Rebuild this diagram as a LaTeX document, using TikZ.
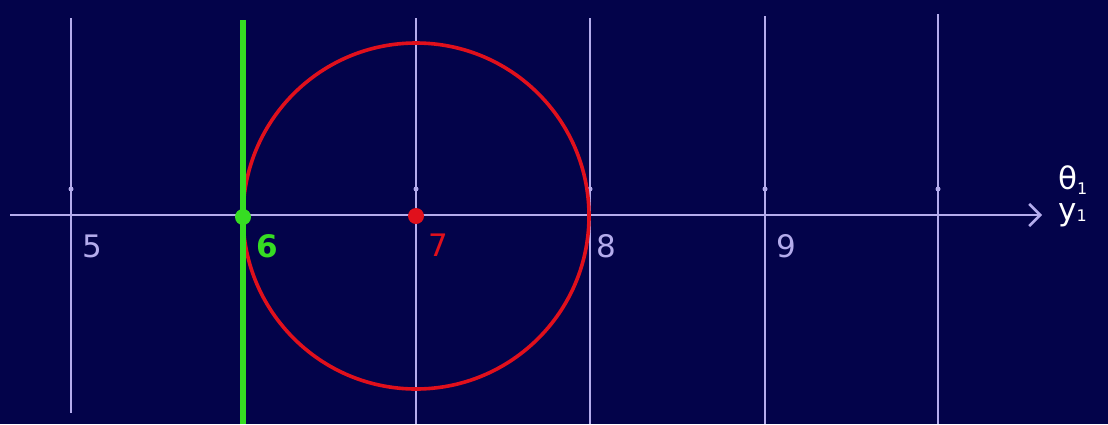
\documentclass[tikz,border=0pt]{standalone}
\usepackage{fontspec}
\setmainfont{DejaVu Sans}
\usetikzlibrary{arrows.meta}
\definecolor{bg}{HTML}{03034A}
\definecolor{lav}{HTML}{B4ACEC}
\definecolor{rd}{HTML}{E0101C}
\definecolor{gr}{HTML}{36DD22}
\tikzset{
  grid/.style={lav, line width=2.8pt},
  lbl/.style={font=\fontsize{31}{33}\selectfont, inner sep=0pt},
  tickdot/.style={circle, fill=lav, inner sep=0pt, minimum size=5pt}
}
\begin{document}
\begin{tikzpicture}[x=1pt,y=-1pt]
\fill[bg] (0,0) rectangle (1108,424);
\useasboundingbox (0,0) rectangle (1108,424);
% vertical grid lines
\draw[grid] (71,18) -- (71,413);
\draw[grid] (416,18) -- (416,424);
\draw[grid] (590,18) -- (590,424);
\draw[grid] (765,16) -- (765,424);
\draw[grid] (938,14) -- (938,424);
% small tick dots
\foreach \x in {71,416,590,765,938} \node[tickdot] at (\x,189) {};
% axis
\coordinate (a0) at (10,215);
\coordinate (a1) at (1042,215);
\draw[grid, -{Straight Barb[length=11pt,width=22pt,line width=2.6pt]}] (a0) -- (a1);
% red circle
\coordinate (c) at (416,216);
\draw[rd, line width=3.6pt] (c) circle (173);
% green line
\draw[gr, line width=6pt] (243,20) -- (243,424);
\node[circle, fill=gr, minimum size=16pt, inner sep=0pt] (g) at (243,217) {};
\node[circle, fill=rd, minimum size=16pt, inner sep=0pt] (r) at (416,216) {};
% labels
\node[lbl, lav] (l5) at (92,246) {5};
\node[lbl, gr, font=\fontsize{31}{33}\selectfont\bfseries] (l6) at (267,246) {6};
\node[lbl, rd] (l7) at (438,245) {7};
\node[lbl, lav] (l8) at (606,246) {8};
\node[lbl, lav] (l9) at (786,246) {9};
\node[lbl, white, anchor=west] (th) at (1058,180) {θ\raisebox{-0.25ex}{\fontsize{16}{16}\selectfont 1}};
\node[lbl, white, anchor=west] (y) at (1058,215) {y\raisebox{-0.1ex}{\fontsize{16}{16}\selectfont 1}};
\end{tikzpicture}
\end{document}
